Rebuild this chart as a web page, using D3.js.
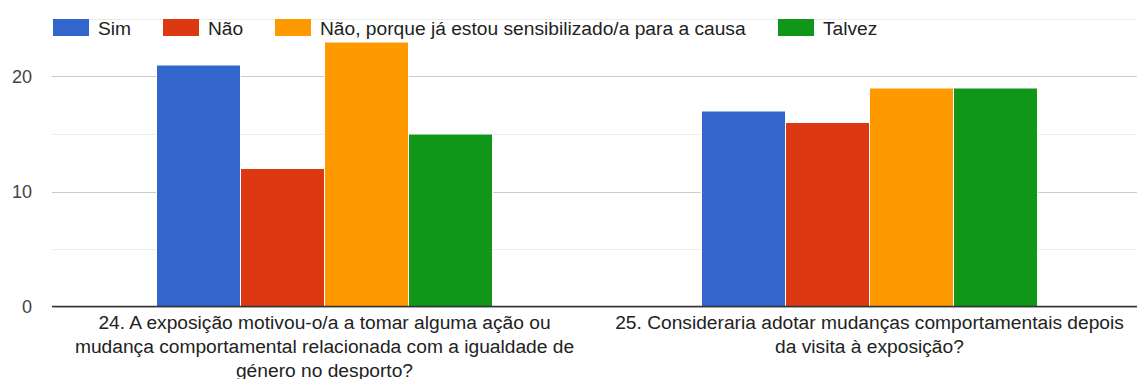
<!DOCTYPE html>
<html>
<head>
<meta charset="utf-8">
<script src="https://cdn.jsdelivr.net/npm/d3@7"></script>
<style>
  html, body { margin: 0; padding: 0; background: #fff; }
  svg { display: block; font-family: Arial, "Liberation Sans", sans-serif; }
</style>
</head>
<body>
<svg id="chart" width="1137" height="379"></svg>
<script>
// Survey answers per question
const categories = [
  "24. A exposição motivou-o/a a tomar alguma ação ou\nmudança comportamental relacionada com a igualdade de\ngénero no desporto?",
  "25. Consideraria adotar mudanças comportamentais depois\nda visita à exposição?"
];
const seriesNames = ["Sim", "Não", "Não, porque já estou sensibilizado/a para a causa", "Talvez"];
const seriesColors = ["#3366cc", "#dc3912", "#ff9900", "#109618"];
const sim = [21, 17];
const nao = [12, 16];
const naoSensibilizado = [23, 19];
const talvez = [15, 19];
const yTicks = [0, 10, 20];
const gridTicks = [0, 5, 10, 15, 20, 25];

const seriesValues = [sim, nao, naoSensibilizado, talvez];

const svg = d3.select("#chart");
const plot = { left: 52, right: 1142, top: 19, bottom: 306.5 };

const x0 = d3.scaleBand().domain(categories).range([plot.left, plot.right]).paddingInner(0).paddingOuter(0);
const groupWidth = 336;
const x1 = d3.scaleBand().domain(seriesNames).range([0, groupWidth]).padding(0);
const y = d3.scaleLinear().domain([0, 25]).range([plot.bottom, plot.top]);

// gridlines
svg.append("g").selectAll("line").data(gridTicks).join("line")
  .attr("x1", plot.left).attr("x2", 1137)
  .attr("y1", d => Math.round(y(d)) + 0.5).attr("y2", d => Math.round(y(d)) + 0.5)
  .attr("stroke", d => d % 10 === 0 ? "#cccccc" : "#ebebeb")
  .attr("stroke-width", 1);

// y axis labels
const yAxis = d3.axisLeft(y).tickValues(yTicks).tickSize(0).tickPadding(0);
const yg = svg.append("g").attr("transform", `translate(${plot.left - 20},0)`).call(yAxis);
yg.select(".domain").remove();
yg.selectAll("text").attr("font-size", 18).attr("fill", "#444").attr("font-family", "Arial, 'Liberation Sans', sans-serif");

// bars
const groups = svg.append("g").selectAll("g").data(categories).join("g")
  .attr("transform", d => `translate(${x0(d) + (x0.bandwidth() - groupWidth) / 2},0)`);
groups.selectAll("rect")
  .data((c, ci) => seriesNames.map((s, si) => ({ s, v: seriesValues[si][ci], color: seriesColors[si] })))
  .join("rect")
  .attr("x", d => x1(d.s))
  .attr("width", x1.bandwidth())
  .attr("y", d => y(d.v))
  .attr("height", d => y(0) - y(d.v))
  .attr("fill", d => d.color)
  .attr("stroke", "#fff")
  .attr("stroke-width", 1);

// baseline
svg.append("line")
  .attr("x1", plot.left).attr("x2", 1137)
  .attr("y1", plot.bottom).attr("y2", plot.bottom)
  .attr("stroke", "#333").attr("stroke-width", 1.5);

// x category labels
const xl = svg.append("g").selectAll("text").data(categories).join("text")
  .attr("text-anchor", "middle")
  .attr("font-size", 19.2)
  .attr("fill", "#222")
  .attr("x", d => x0(d) + x0.bandwidth() / 2)
  .attr("y", 329);
xl.selectAll("tspan").data(d => d.split("\n")).join("tspan")
  .attr("x", function () { return this.parentNode.getAttribute("x"); })
  .attr("dy", (d, i) => i === 0 ? 0 : 24)
  .text(d => d);

// legend
const legendX = [53, 163, 275, 778];
const legend = svg.append("g").selectAll("g").data(seriesNames).join("g")
  .attr("transform", (d, i) => `translate(${legendX[i]},19)`);
legend.append("rect").attr("width", 36).attr("height", 17)
  .attr("fill", (d, i) => seriesColors[i]);
legend.append("text").attr("x", 45).attr("y", 16)
  .attr("font-size", 19.2).attr("fill", "#222").text(d => d);
</script>
</body>
</html>
